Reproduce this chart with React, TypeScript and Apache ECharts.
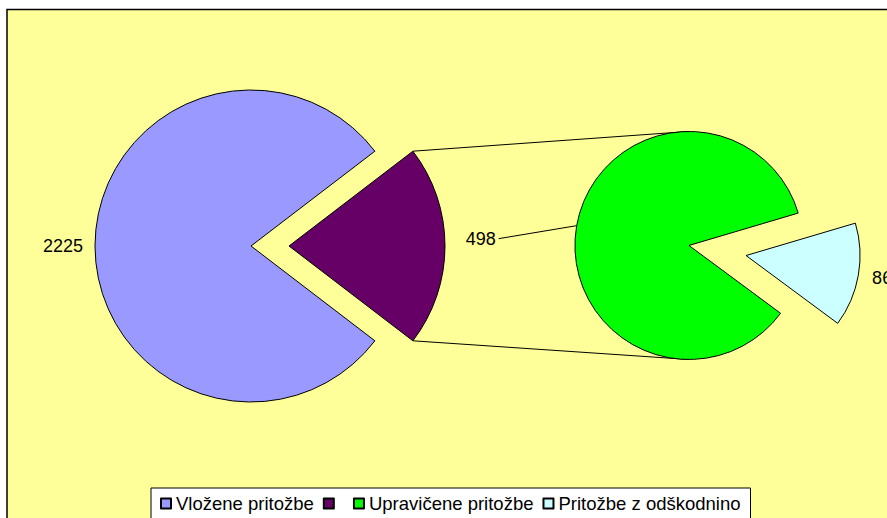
import React, { useEffect, useRef } from "react";
import * as echarts from "echarts";

const mainCategories = ["Vložene pritožbe", " "];
const secondaryCategories = ["Pritožbe z odškodnino", "Upravičene pritožbe"];
const secondaryValues = [86, 498];
const mainFiledValue = 2225;

const COLORS: Record<string, string> = {
  "Vložene pritožbe": "#9999FF",
  " ": "#660066",
  "Upravičene pritožbe": "#00FF00",
  "Pritožbe z odškodnino": "#CCFFFF",
};

export default function App() {
  const ref = useRef<HTMLDivElement>(null);
  useEffect(() => {
    if (!ref.current) return;
    const chart = echarts.init(ref.current, null, { renderer: "svg" });
    const other = secondaryValues.reduce((a, b) => a + b, 0);
    const total = mainFiledValue + other;
    const otherAngle = (other / total) * 360;
    const mainStart = otherAngle / 2;

    const mainCenter = [270, 246];
    const mainR = 156;
    const mainOff = 19;
    const secCenter = [717.5, 250.5];
    const secR = 114;
    const secOff = 29;
    const cyanAngle = (secondaryValues[0] / other) * 360;
    const secStart = -10 + cyanAngle / 2;

    const rad = Math.PI / 180;
    const px = mainCenter[0] + mainOff;
    const py = mainCenter[1];
    const topCorner = [px + mainR * Math.cos(mainStart * rad), py - mainR * Math.sin(mainStart * rad)];
    const botCorner = [px + mainR * Math.cos(mainStart * rad), py + mainR * Math.sin(mainStart * rad)];
    const greenBis = (secStart - cyanAngle + (secStart - 360)) / 2; // bisector of green slice
    const gx = secCenter[0] + secOff * Math.cos(greenBis * rad);
    const gy = secCenter[1] - secOff * Math.sin(greenBis * rad);
    const edgeX = gx + secR * Math.cos(greenBis * rad);
    const edgeY = gy - secR * Math.sin(greenBis * rad);
    const endX = edgeX - 78;
    const endY = edgeY + 13;

    const font = "Liberation Sans, Arial, sans-serif";

    chart.setOption({
      animation: false,
      backgroundColor: "#ffffff",
      graphic: [
        {
          type: "rect",
          shape: { x: 7, y: 9.5, width: 900, height: 520 },
          style: { fill: "#FFFF99", stroke: "#000", lineWidth: 1.5 },
          z: -10,
        },
        {
          type: "line",
          shape: { x1: topCorner[0], y1: topCorner[1], x2: gx, y2: gy - secR },
          style: { stroke: "#000", lineWidth: 1 },
          z: -5,
        },
        {
          type: "line",
          shape: { x1: botCorner[0], y1: botCorner[1], x2: gx, y2: gy + secR },
          style: { stroke: "#000", lineWidth: 1 },
          z: -5,
        },
        {
          type: "line",
          shape: { x1: edgeX, y1: edgeY, x2: endX, y2: endY },
          style: { stroke: "#000", lineWidth: 1 },
          z: -5,
        },
        {
          type: "text",
          x: endX - 3,
          y: endY,
          style: {
            text: String(secondaryValues[1]),
            fill: "#000",
            font: `18px ${font}`,
            textAlign: "right",
            textVerticalAlign: "middle",
          },
          z: 10,
        },
      ],
      legend: {
        left: 151,
        top: 488,
        orient: "horizontal",
        padding: [6, 10, 6, 9],
        itemGap: 9,
        itemWidth: 10,
        itemHeight: 10,
        icon: "rect",
        backgroundColor: "#ffffff",
        borderColor: "#000",
        borderWidth: 1,
        borderRadius: 0,
        selectedMode: false,
        textStyle: { fontFamily: font, fontSize: 18.5, color: "#000" },
        data: ["Vložene pritožbe", " ", "Upravičene pritožbe", "Pritožbe z odškodnino"],
      },
      series: [
        {
          type: "pie",
          center: mainCenter,
          radius: [0, mainR],
          startAngle: mainStart,
          clockwise: true,
          selectedMode: "multiple",
          selectedOffset: mainOff,
          avoidLabelOverlap: false,
          emphasis: { disabled: true },
          itemStyle: { borderColor: "#000", borderWidth: 1 },
          select: { itemStyle: { borderColor: "#000", borderWidth: 1 } },
          label: { fontFamily: font, fontSize: 18, color: "#000" },
          data: [
            {
              name: mainCategories[1],
              value: other,
              selected: true,
              itemStyle: { color: COLORS[mainCategories[1]] },
              select: { itemStyle: { color: COLORS[mainCategories[1]] } },
              label: { show: false },
              labelLine: { show: false },
            },
            {
              name: mainCategories[0],
              value: mainFiledValue,
              selected: true,
              itemStyle: { color: COLORS[mainCategories[0]] },
              select: { itemStyle: { color: COLORS[mainCategories[0]] } },
              label: { show: true, position: "outside", formatter: "{c}", distanceToLabelLine: 0 },
              labelLine: { show: false, length: 12, length2: 0 },
            },
          ],
        },
        {
          type: "pie",
          center: secCenter,
          radius: [0, secR],
          startAngle: secStart,
          clockwise: true,
          selectedMode: "multiple",
          selectedOffset: secOff,
          avoidLabelOverlap: false,
          emphasis: { disabled: true },
          itemStyle: { borderColor: "#000", borderWidth: 1 },
          select: { itemStyle: { borderColor: "#000", borderWidth: 1 } },
          label: { fontFamily: font, fontSize: 18, color: "#000" },
          data: [
            {
              name: secondaryCategories[0],
              value: secondaryValues[0],
              selected: true,
              itemStyle: { color: COLORS[secondaryCategories[0]] },
              select: { itemStyle: { color: COLORS[secondaryCategories[0]] } },
              label: { show: true, position: "outside", formatter: "{c}", distanceToLabelLine: 0 },
              labelLine: { show: false, length: 14, length2: 0 },
            },
            {
              name: secondaryCategories[1],
              value: secondaryValues[1],
              selected: true,
              itemStyle: { color: COLORS[secondaryCategories[1]] },
              select: { itemStyle: { color: COLORS[secondaryCategories[1]] } },
              label: { show: false },
              labelLine: { show: false },
            },
          ],
        },
      ],
    });
    return () => chart.dispose();
  }, []);
  return (
    <div
      ref={ref}
      style={{ position: "fixed", left: 0, top: 0, width: 887, height: 518 }}
    />
  );
}
